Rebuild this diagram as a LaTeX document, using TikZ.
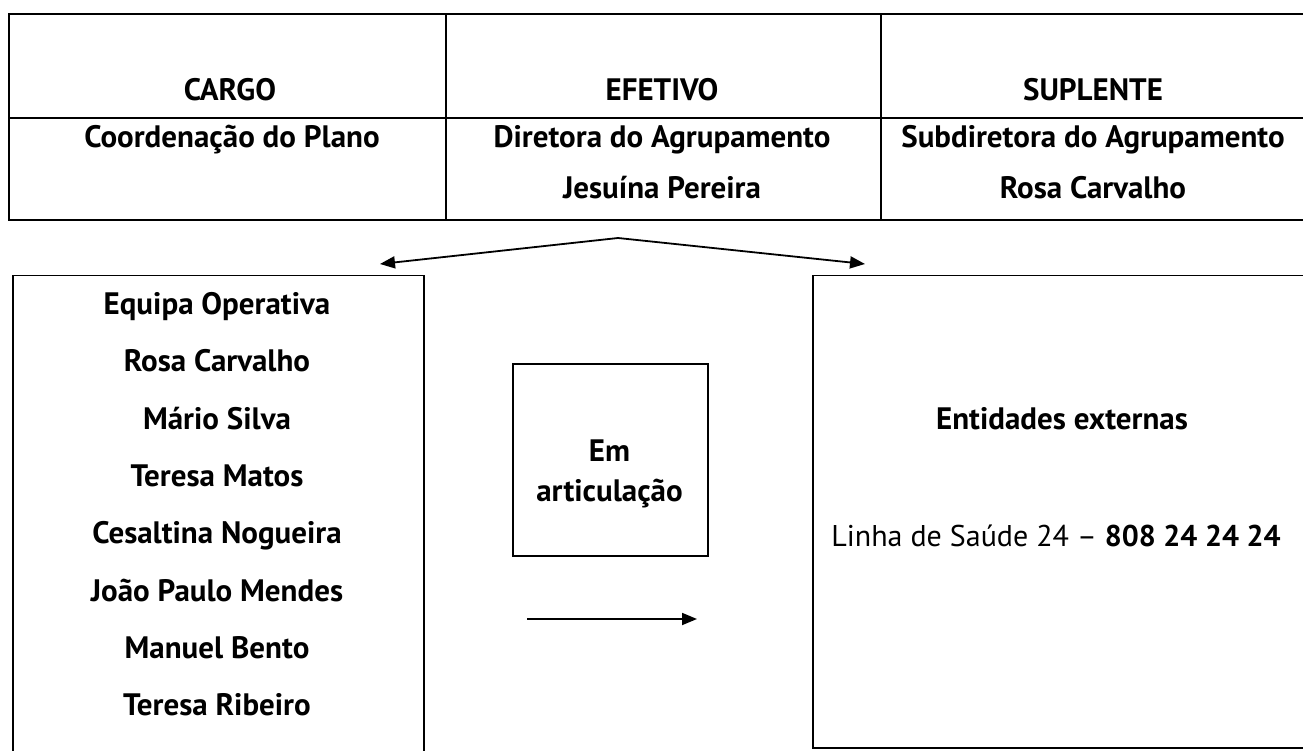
\documentclass[tikz,border=0pt]{standalone}
\usepackage{fontspec}
\setmainfont{PT Sans}
\usetikzlibrary{arrows.meta}
\begin{document}
\begin{tikzpicture}[x=1pt,y=-1pt,
  txt/.style={font=\fontsize{31}{36}\selectfont\bfseries, inner sep=0pt, anchor=base},
  plain/.style={font=\fontsize{30}{36}\selectfont, inner sep=0pt, anchor=base},
  cell/.style={draw, line width=2pt, rectangle, anchor=north west, inner sep=0pt},
  boxx/.style={draw, line width=1.5pt, rectangle, anchor=north west, inner sep=0pt},
  arr/.style={line width=1.8pt, -{Triangle[length=15pt,width=12pt]}}]
\useasboundingbox (0,0) rectangle (1303,751);
\clip (0,0) rectangle (1303,751);
% table cells
\node[cell, minimum width=437pt, minimum height=104pt] (c11) at (8,13) {};
\node[cell, minimum width=435pt, minimum height=104pt] (c12) at (445,13) {};
\node[cell, minimum width=430pt, minimum height=104pt] (c13) at (880,13) {};
\node[cell, minimum width=437pt, minimum height=102pt] (c21) at (8,117) {};
\node[cell, minimum width=435pt, minimum height=102pt] (c22) at (445,117) {};
\node[cell, minimum width=430pt, minimum height=102pt] (c23) at (880,117) {};
% table text
\node[txt] (h1) at (230,101) {CARGO};
\node[txt] (h2) at (662,101) {EFETIVO};
\node[txt] (h3) at (1093,101) {SUPLENTE};
\node[txt] (t1) at (232,148) {Coordenação do Plano};
\node[txt] (t2) at (662,148) {Diretora do Agrupamento};
\node[txt] (t3) at (662,199) {Jesuína Pereira};
\node[txt] (t4) at (1093,148) {Subdiretora do Agrupamento};
\node[txt] (t5) at (1093,199) {Rosa Carvalho};
% lower boxes
\node[boxx, minimum width=411pt, minimum height=490pt] (left) at (12,275) {};
\node[boxx, minimum width=500pt, minimum height=472pt] (right) at (812,275) {};
\node[boxx, minimum width=195pt, minimum height=192pt] (mid) at (512,363) {};
% left list
\node[txt] (l1) at (217,314) {Equipa Operativa};
\node[txt] (l2) at (217,371) {Rosa Carvalho};
\node[txt] (l3) at (217,429) {Mário Silva};
\node[txt] (l4) at (217,486) {Teresa Matos};
\node[txt] (l5) at (217,543) {Cesaltina Nogueira};
\node[txt] (l6) at (217,601) {João Paulo Mendes};
\node[txt] (l7) at (217,658) {Manuel Bento};
\node[txt] (l8) at (217,715) {Teresa Ribeiro};
% middle text
\node[txt] (m1) at (609.5,461) {Em};
\node[txt] (m2) at (609.5,501) {articulação};
% right text
\node[txt] (r1) at (1062,429) {Entidades externas};
\node[plain] (r2) at (1056,546) {Linha de Saúde 24 -- \textbf{808 24 24 24}};
% arrows
\coordinate (apex) at (618,238);
\coordinate (tipL) at (380,264);
\coordinate (tipR) at (865,264);
\draw[arr] (apex) -- (tipL);
\draw[arr] (apex) -- (tipR);
\coordinate (a0) at (527,619);
\coordinate (a1) at (697,619);
\draw[arr] (a0) -- (a1);
\end{tikzpicture}
\end{document}
